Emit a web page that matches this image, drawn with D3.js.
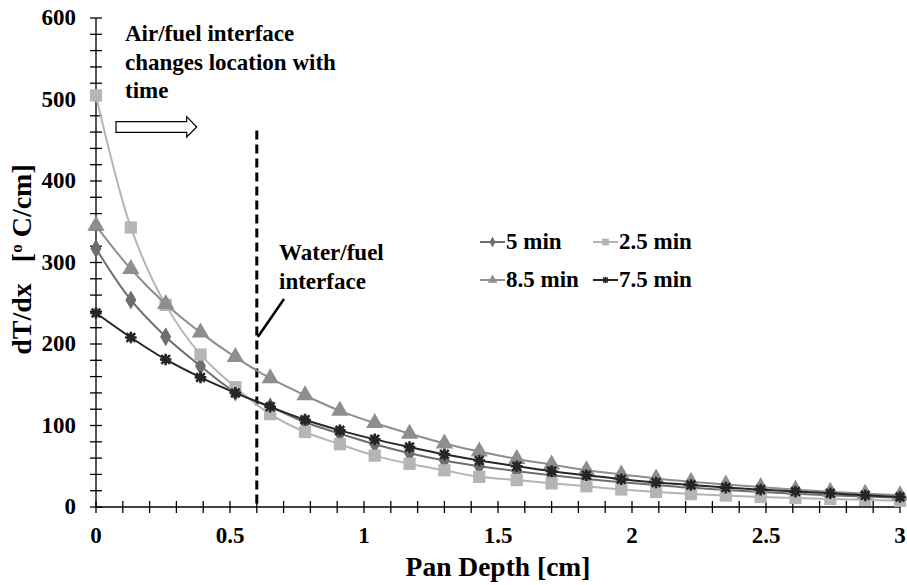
<!DOCTYPE html>
<meta charset="utf-8">
<style>
body { margin: 0; background: #fff; }
svg text { font-family: "Times New Roman", "Liberation Serif", Times, serif; font-weight: 700; fill: #000; }
.axis line { stroke: #000; stroke-width: 1.3px; }
.curve { fill: none; stroke-width: 2px; }
</style>
<body>
<script src="https://d3js.org/d3.v7.min.js"></script>
<script>
var width = 907,
    height = 585;

// pan depth [cm] of each sample
var depth = [0, 0.13, 0.26, 0.39, 0.52, 0.65, 0.78, 0.91, 1.04, 1.17, 1.30, 1.43,
             1.57, 1.70, 1.83, 1.96, 2.09, 2.22, 2.35, 2.48, 2.61, 2.74, 2.87, 3.00];

// dT/dx values
var min5  = [317, 254, 209, 173, 141, 123, 104, 90, 77, 66, 57, 50,
             44, 39, 34.5, 30.5, 27, 23.5, 21, 18.5, 16.3, 14.5, 12.8, 11.2];
var min25 = [505, 343, 248, 187, 147, 114, 92, 77, 63, 53, 45, 37,
             33, 29, 25.4, 21.5, 18.4, 15.8, 14, 12.3, 11, 9.8, 8.8, 7.6];
var min85 = [345, 292, 249, 214, 184, 158, 137, 118, 103, 90, 78, 68,
             59, 52, 45, 40, 35, 31, 27.5, 24.5, 21.3, 18.6, 16.4, 14.3];
var min75 = [238, 208, 181, 159, 140, 123, 107, 94, 83, 73.5, 64.6, 57,
             50, 44, 39, 34, 30, 27, 23.8, 21.3, 18.9, 16.8, 14.3, 12.3];

var xTicks = [0, 0.5, 1, 1.5, 2, 2.5, 3];
var yTicks = [0, 100, 200, 300, 400, 500, 600];
var interfaceDepth = 0.6;

var series = [
  {name: "5 min",   values: min5,  color: "#6e6e6e", symbol: "diamond"},
  {name: "2.5 min", values: min25, color: "#b5b5b5", symbol: "square"},
  {name: "8.5 min", values: min85, color: "#8e8e8e", symbol: "triangle"},
  {name: "7.5 min", values: min75, color: "#262626", symbol: "star"}
];

var x = d3.scaleLinear().domain([0, 3]).range([96, 900]);
var y = d3.scaleLinear().domain([0, 600]).range([507, 18]);

var svg = d3.select("body").append("svg")
    .attr("width", width)
    .attr("height", height);

// ---- axes
var xAxis = svg.append("g").attr("class", "axis")
    .attr("transform", "translate(0," + y(0) + ")");
xAxis.append("line").attr("x1", x(0)).attr("x2", x(3));
xAxis.selectAll(".minor")
    .data(d3.range(0, 31).map(function(i) { return i / 10; }))
  .enter().append("line")
    .attr("x1", function(d) { return x(d); })
    .attr("x2", function(d) { return x(d); })
    .attr("y1", -6).attr("y2", 6);
xAxis.selectAll(".lbl")
    .data(xTicks)
  .enter().append("text")
    .attr("x", function(d) { return x(d); })
    .attr("y", 36)
    .attr("text-anchor", "middle")
    .style("font-size", "23px")
    .text(function(d) { return d; });

var yAxis = svg.append("g").attr("class", "axis")
    .attr("transform", "translate(" + x(0) + ",0)");
yAxis.append("line").attr("y1", y(0)).attr("y2", y(600));
yAxis.selectAll(".minor")
    .data(d3.range(0, 31).map(function(i) { return i * 20; }))
  .enter().append("line")
    .attr("y1", function(d) { return y(d); })
    .attr("y2", function(d) { return y(d); })
    .attr("x1", -6).attr("x2", 6);
yAxis.selectAll(".lbl")
    .data(yTicks)
  .enter().append("text")
    .attr("x", -20)
    .attr("y", function(d) { return y(d) + 7; })
    .attr("text-anchor", "end")
    .style("font-size", "23px")
    .text(function(d) { return d; });

// axis titles
svg.append("text")
    .attr("x", (x(0) + x(3)) / 2)
    .attr("y", 576)
    .attr("text-anchor", "middle")
    .style("font-size", "27.5px")
    .text("Pan Depth [cm]");

var yt = svg.append("text")
    .attr("transform", "translate(31," + ((y(0) + y(600)) / 2 - 3) + ") rotate(-90)")
    .attr("text-anchor", "middle")
    .style("font-size", "28px")
    .style("white-space", "pre");
yt.append("tspan").text("dT/dx\u00a0\u00a0 [");
yt.append("tspan").attr("dy", -9).style("font-size", "17px").text("o");
yt.append("tspan").attr("dy", 9).text(" C/cm]");

// ---- interface line and annotations
svg.append("line")
    .attr("x1", x(interfaceDepth)).attr("x2", x(interfaceDepth))
    .attr("y1", y(462)).attr("y2", y(0))
    .attr("stroke", "#000").attr("stroke-width", 3)
    .attr("stroke-dasharray", "9,5");

svg.append("line")
    .attr("x1", 284).attr("y1", 299)
    .attr("x2", x(interfaceDepth) + 1).attr("y2", 337)
    .attr("stroke", "#000").attr("stroke-width", 2.5);

svg.selectAll(".wf")
    .data(["Water/fuel", "interface"])
  .enter().append("text")
    .attr("x", 279)
    .attr("y", function(d, i) { return 260 + i * 29; })
    .style("font-size", "23px")
    .text(function(d) { return d; });

svg.selectAll(".af")
    .data(["Air/fuel interface", "changes location with", "time"])
  .enter().append("text")
    .attr("x", 125)
    .attr("y", function(d, i) { return 41 + i * 28.5; })
    .style("font-size", "23px")
    .text(function(d) { return d; });

svg.append("path")
    .attr("d", "M116,121.7H186.7V116.7L196.7,127L186.7,137V132.3H116Z")
    .attr("fill", "#fff").attr("stroke", "#000").attr("stroke-width", 1.2);

// ---- series
var line = d3.line()
    .x(function(d, i) { return x(depth[i]); })
    .y(function(d) { return y(d); })
    .curve(d3.curveCatmullRom.alpha(0.5));

function drawMarker(g, s, scale) {
  if (s.symbol === "star") {
    var r = 5.8 * scale;
    var d = r * 0.75;
    g.append("path")
        .attr("d", "M" + (-r) + ",0H" + r + "M0," + (-r) + "V" + r +
                   "M" + (-d) + "," + (-d) + "L" + d + "," + d +
                   "M" + (-d) + "," + d + "L" + d + "," + (-d))
        .attr("stroke", s.color).attr("stroke-width", 2.6 * scale)
        .attr("fill", "none");
    g.append("circle").attr("r", 3.8 * scale).attr("fill", s.color);
  } else {
    var type = {diamond: d3.symbolDiamond, square: d3.symbolSquare, triangle: d3.symbolTriangle}[s.symbol];
    var size = {diamond: 105, square: 150, triangle: 130}[s.symbol] * scale * scale;
    g.append("path")
        .attr("d", d3.symbol().type(type).size(size)())
        .attr("fill", s.color);
  }
}

series.forEach(function(s) {
  var g = svg.append("g");
  g.append("path")
      .datum(s.values)
      .attr("class", "curve")
      .attr("stroke", s.color)
      .attr("d", line);
  s.values.forEach(function(v, i) {
    var m = g.append("g")
        .attr("transform", "translate(" + x(depth[i]) + "," + y(v) + ")");
    drawMarker(m, s, 1);
  });
});

// ---- legend
var legendPos = [[480, 242], [593, 242], [480, 280], [593, 280]];
series.forEach(function(s, i) {
  var lg = svg.append("g")
      .attr("transform", "translate(" + legendPos[i][0] + "," + legendPos[i][1] + ")");
  lg.append("line").attr("x1", 0).attr("x2", 25)
      .attr("stroke", s.color).attr("stroke-width", 2);
  drawMarker(lg.append("g").attr("transform", "translate(12.5,0)"), s, 0.55);
  lg.append("text")
      .attr("x", 26).attr("y", 7)
      .style("font-size", "23px")
      .text(s.name);
});
</script>
